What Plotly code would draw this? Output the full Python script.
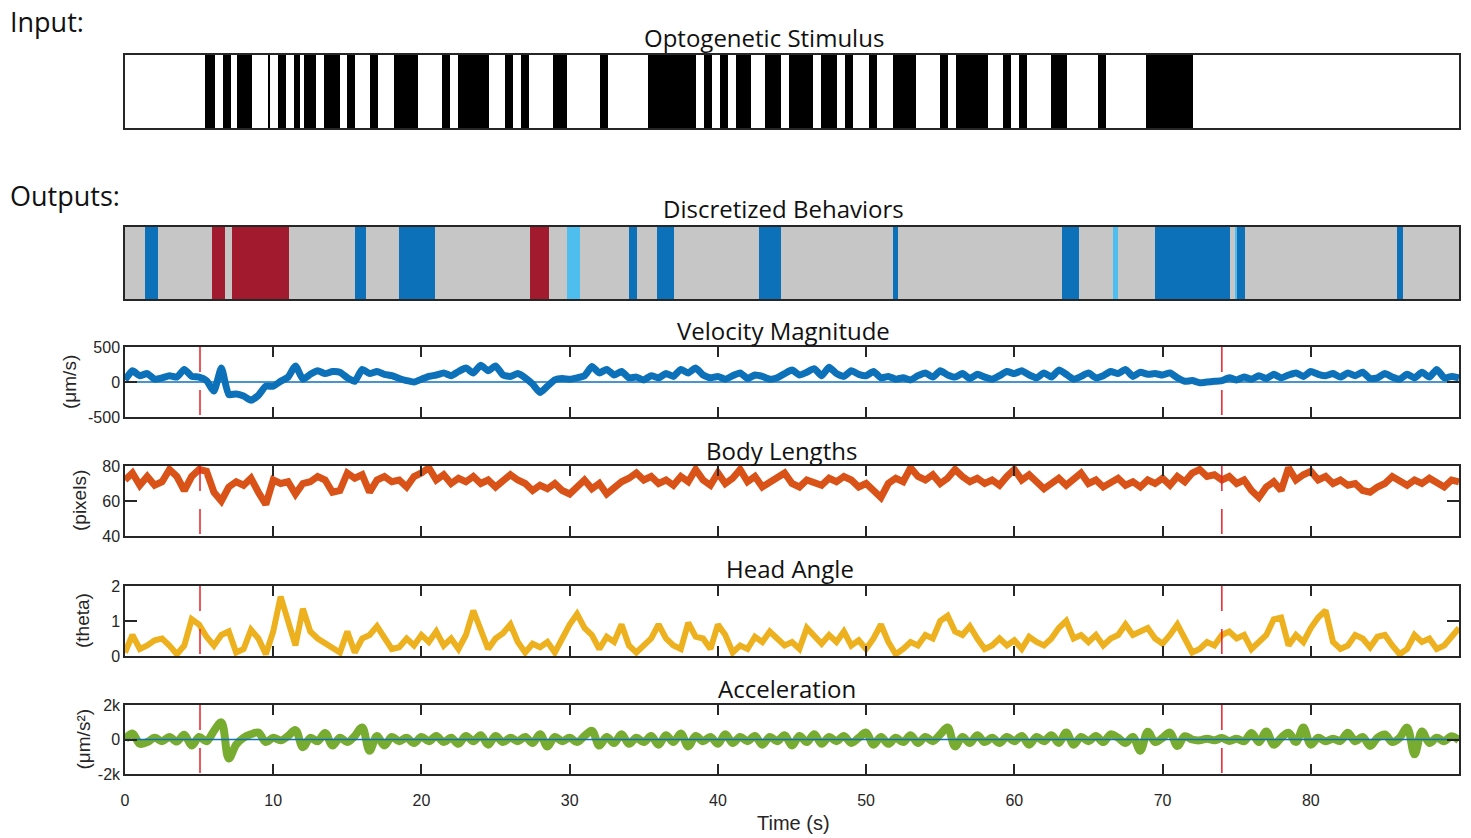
import numpy as np
import plotly.graph_objects as go

# ---------------- data ----------------
stim_on = [5.40, 6.60, 7.56, 9.66, 10.33, 11.39, 12.09, 13.44, 14.99, 16.54, 18.16, 21.40, 22.48,
           25.66, 26.74, 28.90, 32.07, 35.31, 39.03, 40.11, 41.19, 43.21, 44.83, 46.93, 48.55,
           50.17, 51.79, 54.96, 56.04, 59.22, 60.30, 62.46, 65.63, 68.87]
stim_off = [6.08, 7.16, 8.58, 9.72, 10.87, 11.79, 12.90, 14.52, 15.53, 17.08, 19.78, 21.94, 24.58,
            26.20, 27.28, 29.84, 32.61, 38.49, 39.57, 40.65, 42.20, 44.29, 46.39, 48.01, 49.09,
            50.71, 53.34, 55.50, 58.20, 59.76, 60.84, 63.54, 66.17, 72.05]

beh_start = [1.35, 5.87, 7.22, 15.53, 18.50, 27.35, 29.84, 34.03, 35.92, 42.74, 51.79, 63.20,
             66.64, 69.48, 74.95, 75.02, 85.82]
beh_end = [2.23, 6.75, 11.07, 16.27, 20.93, 28.63, 30.72, 34.57, 37.07, 44.29, 52.13, 64.35,
           66.98, 74.54, 75.02, 75.56, 86.23]
beh_state = ["S1", "S2", "S2", "S1", "S1", "S2", "S3", "S1", "S1", "S1", "S1", "S1",
             "S3", "S1", "S3", "S1", "S1"]
state_colors = {"S1": "#0C71B8", "S2": "#A21A2E", "S3": "#4DBEEE"}

event_times = [5.06, 74.0]

sample_dt = 0.5  # s between samples below

velocity = [30, 160, 90, 120, 40, 60, 90, 70, 180, 80, 70, 20, -130, 200, -180, -170, -200, -260,
            -190, -60, -60, 10, 70, 230, 40, 110, 160, 120, 150, 140, 60, 10, 180, 120, 150, 110,
            90, 50, 20, 0, 40, 80, 100, 130, 90, 150, 200, 130, 240, 160, 230, 100, 80, 120, 60,
            -30, -150, -60, 30, 50, 40, 60, 90, 220, 130, 180, 100, 150, 60, 70, 30, 90, 60, 120,
            80, 180, 130, 200, 100, 60, 80, 40, 90, 130, 50, 100, 80, 40, 60, 120, 170, 100, 140,
            190, 90, 210, 120, 80, 160, 110, 90, 150, 60, 80, 40, 60, 30, 90, 130, 70, 160, 100,
            70, 120, 50, 110, 70, 40, 90, 150, 120, 160, 100, 60, 130, 70, 170, 110, 40, 80, 130,
            60, 90, 150, 120, 180, 80, 140, 110, 120, 100, 130, 60, 10, 20, -10, 0, 10, 20, 60, 30,
            70, 40, 90, 50, 110, 60, 100, 130, 80, 150, 110, 90, 120, 70, 130, 90, 140, 50, 60,
            120, 70, 40, 110, 60, 140, 70, 180, 60, 80, 60]

body_length = [72, 76, 69, 74, 69, 71, 78, 74, 66, 74, 78, 77, 65, 60, 68, 71, 69, 73, 65, 58, 72,
               70, 71, 64, 70, 71, 74, 72, 65, 66, 76, 73, 75, 65, 72, 74, 71, 72, 68, 74, 76, 79,
               72, 75, 70, 73, 71, 74, 70, 72, 68, 71, 75, 72, 70, 66, 69, 67, 70, 66, 64, 68, 72,
               67, 70, 64, 68, 71, 73, 76, 72, 74, 70, 72, 69, 74, 71, 78, 72, 69, 76, 70, 73, 78,
               71, 74, 68, 71, 73, 76, 70, 68, 72, 70, 69, 73, 71, 74, 72, 68, 70, 66, 62, 70, 73,
               71, 79, 74, 72, 75, 70, 73, 78, 74, 71, 73, 70, 72, 69, 74, 78, 72, 75, 71, 67, 70,
               73, 69, 72, 76, 70, 72, 68, 71, 73, 69, 71, 68, 72, 70, 73, 69, 74, 71, 76, 78, 74,
               75, 72, 74, 70, 72, 66, 62, 68, 71, 66, 79, 72, 75, 77, 72, 74, 70, 72, 69, 70, 66,
               65, 68, 70, 74, 71, 69, 72, 70, 73, 71, 68, 72, 71]

head_angle = [0.1, 0.6, 0.2, 0.3, 0.45, 0.5, 0.3, 0.05, 0.3, 1.05, 0.9, 0.55, 0.3, 0.6, 0.7, 0.1,
              0.2, 0.75, 0.5, 0.05, 0.7, 1.7, 1.0, 0.3, 1.35, 0.7, 0.5, 0.35, 0.25, 0.1, 0.7, 0.1,
              0.5, 0.6, 0.85, 0.5, 0.2, 0.25, 0.5, 0.3, 0.6, 0.4, 0.7, 0.3, 0.5, 0.2, 0.6, 1.3,
              0.8, 0.2, 0.5, 0.65, 0.9, 0.4, 0.1, 0.35, 0.25, 0.4, 0.1, 0.5, 0.9, 1.2, 0.8, 0.6,
              0.2, 0.55, 0.4, 0.9, 0.3, 0.1, 0.3, 0.5, 0.9, 0.5, 0.3, 0.2, 0.95, 0.55, 0.5, 0.2,
              0.9, 0.6, 0.1, 0.3, 0.2, 0.55, 0.4, 0.7, 0.5, 0.3, 0.4, 0.2, 0.8, 0.6, 0.35, 0.6,
              0.4, 0.7, 0.3, 0.45, 0.2, 0.5, 0.9, 0.4, 0.05, 0.2, 0.4, 0.3, 0.6, 0.5, 1.0, 1.15,
              0.7, 0.6, 0.85, 0.5, 0.2, 0.3, 0.5, 0.3, 0.45, 0.2, 0.55, 0.4, 0.3, 0.5, 0.8, 1.0,
              0.5, 0.6, 0.4, 0.6, 0.3, 0.5, 0.6, 0.9, 0.6, 0.7, 0.8, 0.5, 0.35, 0.6, 0.9, 0.5,
              0.1, 0.2, 0.4, 0.3, 0.6, 0.7, 0.5, 0.6, 0.2, 0.4, 0.6, 1.05, 1.1, 0.3, 0.6, 0.4,
              0.8, 1.1, 1.3, 0.4, 0.2, 0.3, 0.6, 0.5, 0.25, 0.55, 0.6, 0.3, 0.05, 0.2, 0.6, 0.4,
              0.5, 0.2, 0.3, 0.55, 0.8]

acceleration = [0, 350, -250, -150, 100, -100, 150, -120, 280, -350, 150, -100, 500, 1000, -1100,
                -300, 100, 300, 400, -150, 100, -50, 200, 550, -450, 100, -100, 380, -350, 100,
                -150, 200, 700, -650, 200, -350, 150, -100, 100, -200, 150, -100, 200, -150, 100,
                -250, 200, -100, 250, -300, 200, -150, 100, -100, 150, -200, 300, -400, 150, -100,
                100, -150, 200, 500, -350, 150, -200, 300, -250, 100, -150, 200, -300, 250, -150,
                350, -400, 200, -100, 150, -250, 300, -200, 150, -100, 200, -300, 150, -100, 250,
                -350, 200, -150, 300, -250, 150, -100, 200, -200, 100, 400, -300, 150, -250, 100,
                -150, 250, -200, 150, -100, 300, 700, -400, 150, -200, 250, -150, 100, -200, 150,
                -100, 200, -300, 150, -100, 250, -200, 400, -300, 150, -100, 200, -150, 300, 100,
                -200, 150, -650, 450, -150, 100, 400, -380, 190, 0, -50, 50, -50, 80, -80, 50, -100,
                380, -150, 460, -300, 100, 390, -150, 690, -300, 100, -100, 50, -80, 390, -100, 150,
                -380, 100, 290, -150, 100, 690, -860, 460, -200, 100, -100, 190, -50]

x_ticks = [0, 10, 20, 30, 40, 50, 60, 70, 80]
x_range = [0, 90]

panels = [
    dict(name="velocity", title="Velocity Magnitude", unit="(μm/s)", values=velocity,
         color="#0C71B8", yrange=[-500, 500], yticks=[-500, 0, 500], yticktext=["-500", "0", "500"],
         zero=True, width=7, shape="spline", smooth=0.5),
    dict(name="body", title="Body Lengths", unit="(pixels)", values=body_length,
         color="#D95319", yrange=[40, 80], yticks=[40, 60, 80], yticktext=["40", "60", "80"],
         zero=False, width=7, shape="linear", smooth=0),
    dict(name="head", title="Head Angle", unit="(theta)", values=head_angle,
         color="#EDB120", yrange=[0, 2], yticks=[0, 1, 2], yticktext=["0", "1", "2"],
         zero=False, width=6, shape="linear", smooth=0),
    dict(name="accel", title="Acceleration", unit="(μm/s²)", values=acceleration,
         color="#77AC30", yrange=[-2000, 2000], yticks=[-2000, 0, 2000], yticktext=["-2k", "0", "2k"],
         zero=True, width=8, shape="spline", smooth=1.0),
]

# ---------------- layout geometry (pixels) ----------------
W, H = 1471, 838
X0, X1 = 125, 1459
rows_px = [(55, 128), (227, 299), (347, 417), (466, 536), (586, 656), (705, 774)]
title_px = [(764, 38, "Optogenetic Stimulus"), (784, 208, "Discretized Behaviors")]
title_px += [(783, 330, None), (781, 450, None), (790, 568, None), (787, 688, None)]
unit_x_px = [69, 79, 82, 83]

def px_x(p):
    return p / W

def px_y(p):
    return 1 - p / H

AX = "#262626"
TICKFONT = dict(family="Liberation Sans, Arial, sans-serif", size=16, color=AX)
TITLEFONT = dict(family="Open Sans, sans-serif", size=24, color="#111111")

fig = go.Figure()
layout = dict(width=W, height=H, margin=dict(l=0, r=0, t=0, b=0, pad=0, autoexpand=False),
              paper_bgcolor="white", plot_bgcolor="white", showlegend=False,
              barmode="overlay", bargap=0)

for i, (top, bot) in enumerate(rows_px, start=1):
    xa = dict(domain=[px_x(X0), px_x(X1)], range=x_range, anchor=f"y{i}", automargin=False,
              showline=True, linecolor=AX, linewidth=1.5, showgrid=False, zeroline=False,
              fixedrange=True)
    ya = dict(domain=[px_y(bot), px_y(top)], anchor=f"x{i}", showline=True, linecolor=AX,
              automargin=False, linewidth=1.5, showgrid=False, zeroline=False, fixedrange=True)
    if i <= 2:
        xa.update(mirror=True, ticks="", showticklabels=False)
        ya.update(mirror=True, ticks="", showticklabels=False, range=[0, 1])
    else:
        p = panels[i - 3]
        xa.update(mirror="allticks", ticks="inside", ticklen=10, tickwidth=1.5, tickcolor=AX,
                  tickvals=x_ticks, showticklabels=(i == 6), tickfont=TICKFONT,
                  ticklabelstandoff=11)
        ya.update(mirror="allticks", ticks="inside", ticklen=12, tickwidth=1.5, tickcolor=AX,
                  tickvals=p["yticks"], ticktext=p["yticktext"], range=p["yrange"],
                  tickfont=TICKFONT)
    sfx = "" if i == 1 else str(i)
    layout["xaxis" + sfx] = xa
    layout["yaxis" + sfx] = ya

# stimulus bars
fig.add_trace(go.Bar(
    x=[(a + b) / 2 for a, b in zip(stim_on, stim_off)],
    y=[1] * len(stim_on), width=[b - a for a, b in zip(stim_on, stim_off)],
    marker=dict(color="black", line=dict(width=0)), xaxis="x", yaxis="y", hoverinfo="skip"))

# behaviour background + bars
fig.add_trace(go.Bar(x=[(x_range[0] + x_range[1]) / 2], y=[1], width=[x_range[1] - x_range[0]],
                     marker=dict(color="#C6C6C6", line=dict(width=0)), xaxis="x2", yaxis="y2",
                     hoverinfo="skip"))
fig.add_trace(go.Bar(
    x=[(a + b) / 2 for a, b in zip(beh_start, beh_end)],
    y=[1] * len(beh_start), width=[b - a for a, b in zip(beh_start, beh_end)],
    marker=dict(color=[state_colors[s] for s in beh_state], line=dict(width=0)),
    xaxis="x2", yaxis="y2", hoverinfo="skip"))

shapes = []
for k, p in enumerate(panels):
    ax = k + 3
    t = np.arange(len(p["values"])) * sample_dt
    line = dict(color=p["color"], width=p["width"], shape=p["shape"])
    if p["shape"] == "spline":
        line["smoothing"] = p["smooth"]
    fig.add_trace(go.Scatter(x=t, y=p["values"], mode="lines", line=line,
                             xaxis=f"x{ax}", yaxis=f"y{ax}", hoverinfo="skip"))
    if p["zero"]:
        fig.add_trace(go.Scatter(x=x_range, y=[0, 0], mode="lines",
                                 line=dict(color="#0C71B8", width=1.5),
                                 xaxis=f"x{ax}", yaxis=f"y{ax}", hoverinfo="skip"))
    for et in event_times:
        shapes.append(dict(type="line", xref=f"x{ax}", yref=f"y{ax} domain", x0=et, x1=et,
                           y0=1, y1=0, line=dict(color="#E8202A", width=1.5, dash="25px,18px"),
                           layer="above"))

annotations = []
for i, (cx, cy, txt) in enumerate(title_px):
    text = txt if txt is not None else panels[i - 2]["title"]
    annotations.append(dict(x=px_x(cx), y=px_y(cy), xref="paper", yref="paper", text=text,
                            showarrow=False, xanchor="center", yanchor="middle", font=TITLEFONT))
for k, p in enumerate(panels):
    top, bot = rows_px[k + 2]
    annotations.append(dict(x=px_x(unit_x_px[k]), y=px_y((top + bot) / 2), xref="paper",
                            yref="paper", text=p["unit"], textangle=-90, showarrow=False,
                            xanchor="center", yanchor="middle",
                            font=dict(family="Liberation Sans, Arial, sans-serif", size=19,
                                      color=AX)))
annotations.append(dict(x=px_x(8), y=px_y(22), xref="paper", yref="paper", text="Input:",
                        showarrow=False, xanchor="left", yanchor="middle",
                        font=dict(family="Open Sans, sans-serif", size=27, color="#111111")))
annotations.append(dict(x=px_x(8), y=px_y(195), xref="paper", yref="paper", text="Outputs:",
                        showarrow=False, xanchor="left", yanchor="middle",
                        font=dict(family="Open Sans, sans-serif", size=27, color="#111111")))
annotations.append(dict(x=px_x(793), y=px_y(823), xref="paper", yref="paper", text="Time (s)",
                        showarrow=False, xanchor="center", yanchor="middle",
                        font=dict(family="Liberation Sans, Arial, sans-serif", size=20, color=AX)))

layout["shapes"] = shapes
layout["annotations"] = annotations
fig.update_layout(**layout)

fig.write_html("out.html", config={"displayModeBar": False},
               post_script="document.body.style.margin='0px';document.body.style.overflow='hidden';")
